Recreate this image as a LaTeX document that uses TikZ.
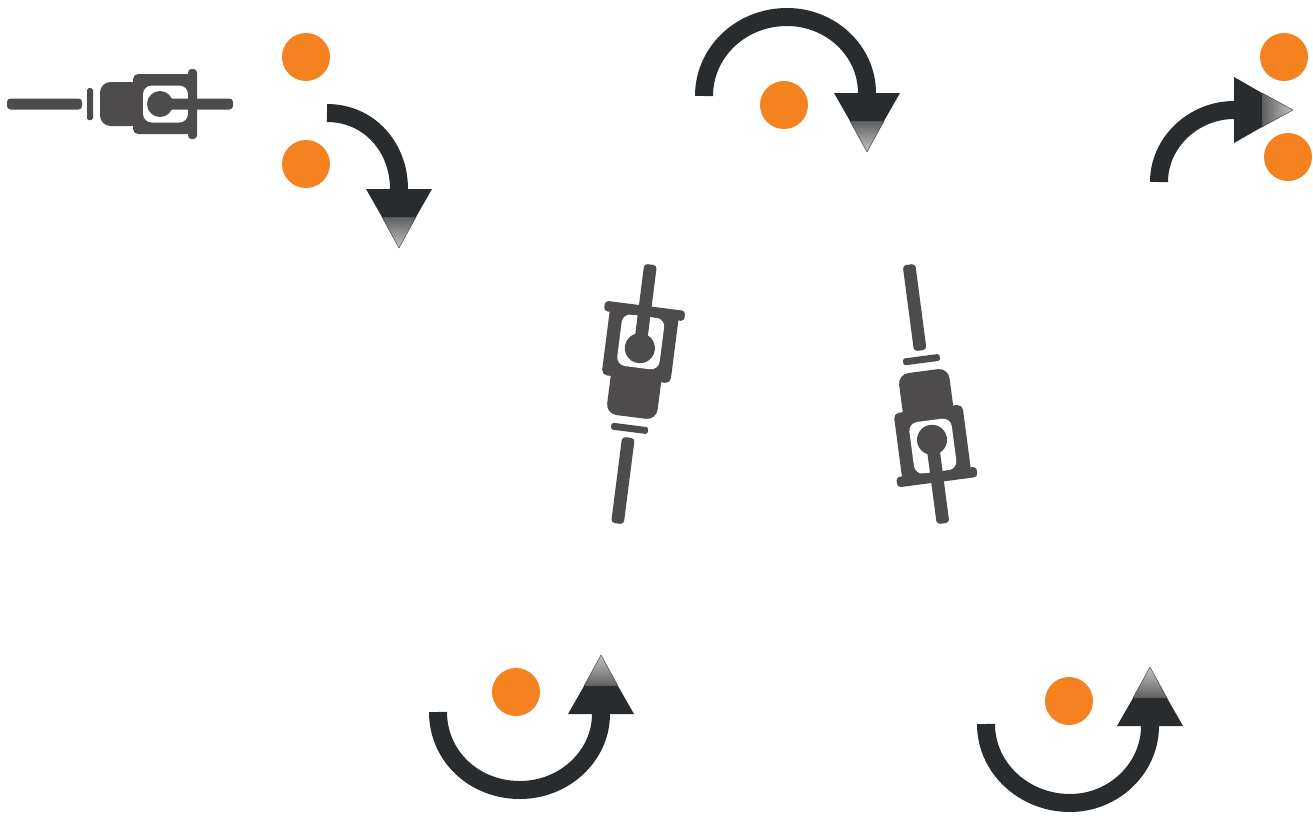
\documentclass[tikz,border=0pt]{standalone}
\usepackage{tikz}
\definecolor{probegray}{RGB}{78,75,77}
\definecolor{arcblack}{RGB}{40,44,46}
\definecolor{dotorange}{RGB}{245,130,32}
\definecolor{tipdark}{RGB}{95,95,95}
\definecolor{tiplight}{RGB}{195,195,195}

\begin{document}
\begin{tikzpicture}[
  x=0.02cm,y=-0.02cm,
  orangedot/.style={circle,fill=dotorange,inner sep=0pt,minimum size=0.96cm},
  arcline/.style={draw=arcblack,line width=0.36cm},
  tipdown/.style={top color=tipdark,bottom color=tiplight},
  tipup/.style={top color=tiplight,bottom color=tipdark},
  tipright/.style={left color=tipdark,right color=tiplight},
  pics/arrowhd/.style={code={
    \fill[arcblack] (0,-33) -- (28,-17) -- (28,17) -- (0,33) -- cycle;
    \shade[#1,draw=arcblack,line width=0.2pt] (28,-17) -- (59,0) -- (28,17) -- cycle;
  }},
  pics/probe/.style={code={
    \fill[probegray,rounded corners=2pt] (-113,-5.5) rectangle (-38,5.5);
    \fill[probegray,rounded corners=1pt] (-33,-16) rectangle (-27,16);
    \fill[probegray,rounded corners=6pt] (-20,-22) rectangle (22,22);
    \fill[probegray,rounded corners=3pt] (13,-30) rectangle (72,30);
    \fill[white,rounded corners=5pt] (23,-18.5) rectangle (68,18.5);
    \fill[probegray] (40,0) circle (13);
    \fill[probegray,rounded corners=2pt] (40,-5.5) rectangle (113,5.5);
    \fill[probegray,rounded corners=2pt] (68,-35) rectangle (77,35);
  }}
]
\useasboundingbox (0,0) rectangle (1313,816);

\pic at (120,104) {probe};
\pic[scale=1.155,rotate=82.7] at (634,394) {probe};
\pic[scale=1.155,rotate=-82.5] at (926,394) {probe};

\node[orangedot] (dotA) at (306,57) {};
\node[orangedot] (dotB) at (306,164) {};
\node[orangedot] (dotC) at (784,105) {};
\node[orangedot] (dotD) at (1284,57) {};
\node[orangedot] (dotE) at (1288,157) {};
\node[orangedot] (dotF) at (516,692) {};
\node[orangedot] (dotG) at (1069,701) {};

\coordinate (startA) at (327,113);
\coordinate (endA) at (399,189);
\coordinate (startB) at (704,96);
\coordinate (topB) at (787,17);
\coordinate (endB) at (867,93);
\coordinate (startC) at (1159,182);
\coordinate (endC) at (1234,110);
\coordinate (startD) at (438,712);
\coordinate (lowD) at (520,790);
\coordinate (endD) at (601,714);
\coordinate (startE) at (986,724);
\coordinate (lowE) at (1070,803);
\coordinate (endE) at (1150,726);

\draw[arcline] (startA) .. controls +(42,0) and +(0,-42) .. (endA);
\draw[arcline] (startB) .. controls +(0,-44) and +(-46,0) .. (topB) .. controls +(44,0) and +(0,-42) .. (endB);
\draw[arcline] (startC) .. controls +(0,-40) and +(-40,0) .. (endC);
\draw[arcline] (startD) .. controls +(0,44) and +(-46,0) .. (lowD) .. controls +(44,0) and +(0,42) .. (endD);
\draw[arcline] (startE) .. controls +(0,44) and +(-46,0) .. (lowE) .. controls +(44,0) and +(0,42) .. (endE);

\pic[rotate=-90] at (endA) {arrowhd=tipdown};
\pic[rotate=-90] at (endB) {arrowhd=tipdown};
\pic at (endC) {arrowhd=tipright};
\pic[rotate=90] at (endD) {arrowhd=tipup};
\pic[rotate=90] at (endE) {arrowhd=tipup};
\end{tikzpicture}
\end{document}
